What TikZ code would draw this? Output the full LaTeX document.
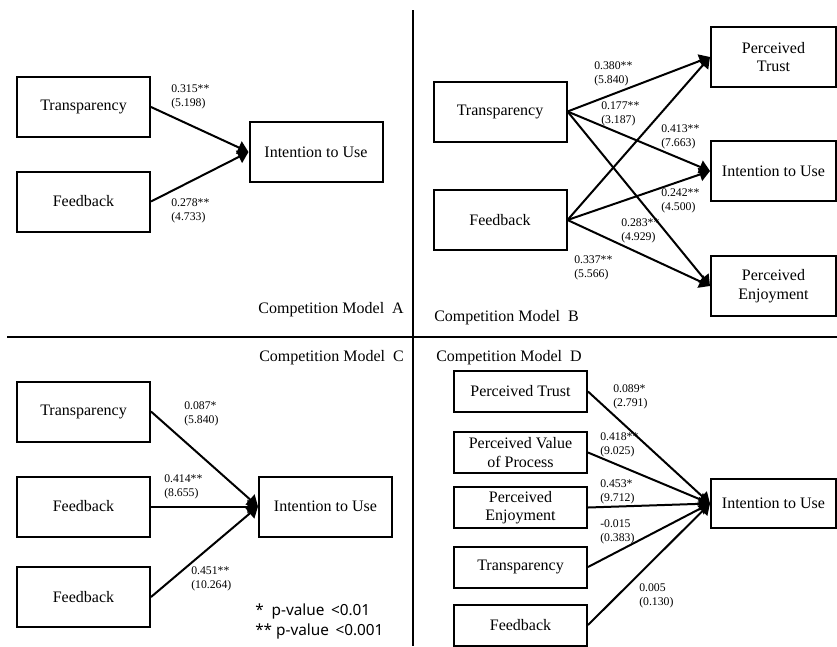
\documentclass[tikz,border=0pt]{standalone}
\usepackage{fontspec}
\setmainfont{Liberation Serif}
\newfontfamily\legendfont{Noto Sans}
\usetikzlibrary{arrows.meta}
\newcommand{\coeflabel}[2]{#1 \\ (#2)}

\begin{document}
\begin{tikzpicture}[x = 0.75pt, y = -0.75pt,
  box/.style = {draw = black, line width = 1.5pt, inner sep = 0pt, align = center, minimum width = 99.75pt, minimum height = 45pt, font = \fontsize{12}{14}\selectfont},
  smallbox/.style = {box, minimum height = 30.75pt},
  rightbox/.style = {box, minimum width = 93.75pt},
  coef/.style = {anchor = west, inner sep = 0pt, align = left, font = \fontsize{8.8}{10.5}\selectfont},
  modeltitle/.style = {inner sep = 0pt, font = \fontsize{12}{14}\selectfont},
  link/.style = {line width = 1.5pt, -{Triangle[length = 8pt, width = 10pt]}},
  divider/.style = {line width = 1.5pt}]
  \useasboundingbox (0, 0) rectangle (837, 646);

  % dividers
  \coordinate (vtop) at (413, 10);
  \coordinate (vbot) at (413, 646);
  \coordinate (hleft) at (7, 337);
  \coordinate (hright) at (837, 337);
  \draw[divider] (vtop) -- (vbot);
  \draw[divider] (hleft) -- (hright);

  % model A
  \node[box] (transA) at (83.5, 107) {Transparency};
  \node[box] (feedA) at (83.5, 201.5) {Feedback};
  \node[box] (useA) at (316, 152) {Intention to Use};
  \foreach \from/\to in {transA/useA, feedA/useA}
    \draw[link] (\from.east) -- (\to.west);
  \node[coef] (cA1) at (171, 97) {\coeflabel{0.315**}{5.198}};
  \node[coef] (cA2) at (171, 210.5) {\coeflabel{0.278**}{4.733}};
  \node[modeltitle, anchor = east] (titleA) at (404, 310) {Competition Model~~A};

  % model B
  \node[box] (transB) at (500, 111.5) {Transparency};
  \node[box] (feedB) at (500, 220) {Feedback};
  \node[rightbox] (trustB) at (773.5, 57) {Perceived\\Trust};
  \node[rightbox] (useB) at (773.5, 171) {Intention to Use};
  \node[rightbox] (enjB) at (773.5, 286) {Perceived\\Enjoyment};
  \foreach \from in {transB, feedB}
    \foreach \to in {trustB, useB, enjB}
      \draw[link] (\from.east) -- (\to.west);
  \node[coef] (cB1) at (594, 74) {\coeflabel{0.380**}{5.840}};
  \node[coef] (cB2) at (601, 114) {\coeflabel{0.177**}{3.187}};
  \node[coef] (cB3) at (661, 136.5) {\coeflabel{0.413**}{7.663}};
  \node[coef] (cB4) at (661, 200.5) {\coeflabel{0.242**}{4.500}};
  \node[coef] (cB5) at (621, 230.5) {\coeflabel{0.283**}{4.929}};
  \node[coef] (cB6) at (574, 267.5) {\coeflabel{0.337**}{5.566}};
  \node[modeltitle, anchor = west] (titleB) at (434, 318) {Competition Model~~B};

  % model C
  \node[modeltitle, anchor = east] (titleC) at (404, 358) {Competition Model~~C};
  \node[box] (transC) at (83.5, 411.5) {Transparency};
  \node[box] (feedC) at (83.5, 506.5) {Feedback};
  \node[box] (feedCC) at (83.5, 597) {Feedback};
  \node[box] (useC) at (325.5, 506.5) {Intention to Use};
  \foreach \from in {transC, feedC, feedCC}
    \draw[link] (\from.east) -- (useC.west);
  \node[coef] (cC1) at (184, 414) {\coeflabel{0.087*}{5.840}};
  \node[coef] (cC2) at (164, 486.5) {\coeflabel{0.414**}{8.655}};
  \node[coef] (cC3) at (191, 578.5) {\coeflabel{0.451**}{10.264}};
  \node[anchor = west, inner sep = 0pt, align = left, font = \legendfont\fontsize{11.5}{15}\selectfont] (legend) at (255, 622) {*~~p-value \,<0.01\\** p-value \,<0.001};

  % model D
  \node[modeltitle, anchor = west] (titleD) at (436, 358) {Competition Model~~D};
  \node[smallbox] (trustD) at (520.5, 391.5) {Perceived Trust};
  \node[smallbox] (valueD) at (520.5, 452.5) {Perceived Value\\of Process};
  \node[smallbox] (enjD) at (520.5, 507.5) {Perceived\\Enjoyment};
  \node[smallbox] (transD) at (520.5, 567) {Transparency};
  \node[smallbox] (feedD) at (520.5, 625) {Feedback};
  \node[rightbox, minimum height = 36.75pt] (useD) at (773.5, 503.5) {Intention to Use};
  \foreach \from in {trustD, valueD, enjD, transD, feedD}
    \draw[link] (\from.east) -- (useD.west);
  \node[coef] (cD1) at (613, 397) {\coeflabel{0.089*}{2.791}};
  \node[coef] (cD2) at (600, 444.5) {\coeflabel{0.418**}{9.025}};
  \node[coef] (cD3) at (600, 491.5) {\coeflabel{0.453*}{9.712}};
  \node[coef] (cD4) at (600, 532) {\coeflabel{-0.015}{0.383}};
  \node[coef] (cD5) at (639, 595.5) {\coeflabel{0.005}{0.130}};
\end{tikzpicture}
\end{document}
